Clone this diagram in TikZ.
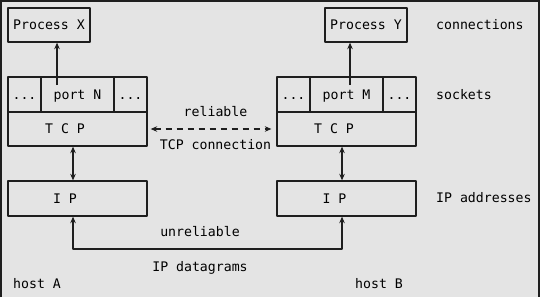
\documentclass[tikz,border=0pt]{standalone}
\usepackage{fontspec}
\setmonofont{DejaVu Sans Mono}
\usetikzlibrary{arrows.meta,positioning,calc}
\definecolor{bg}{HTML}{E4E4E4}
\definecolor{ln}{HTML}{1E1E1E}

\begin{document}
\begin{tikzpicture}[x=1pt, y=-1pt, font=\ttfamily\fontsize{13.2}{16}\selectfont,
    line join=round, >={Stealth[length=6.5pt,width=5.5pt]},
    box/.style={draw=ln, line width=1.3pt, inner sep=0pt, minimum height=34pt,
      text height=11pt, text depth=1.4pt},
    cell/.style={box, minimum height=35pt},
    txt/.style={inner sep=0pt, text height=11pt, text depth=1.4pt},
    link/.style={draw=ln, line width=1.3pt}]
    % Hintergrund und Rahmen
    \useasboundingbox (0,0) rectangle (540,297);
    \fill[bg] (0,0) rectangle (540,297);
    \draw[ln, line width=2pt] (1,297) -- (1,0.5) -- (539,0.5) -- (539,297);

    % Host A
    \node[box, minimum width=82pt] (procX) at (49,25) {Process X};
    \node[cell, minimum width=33pt] (dotsAl) at (24.5,94.5) {...};
    \node[cell, minimum width=73pt] (portN) at (77.5,94.5) {port N};
    \node[cell, minimum width=33pt] (dotsAr) at (130.5,94.5) {...};
    \node[box, minimum width=139pt] (tcpA) at (77.5,129) {};
    \node[txt] (tcpAt) at (65,129) {T C P};
    \node[cell, minimum width=139pt] (ipA) at (77.5,198.5) {};
    \node[txt] (ipAt) at (65,198.5) {I P};

    % Host B
    \node[box, minimum width=82pt] (procY) at (366,25) {Process Y};
    \node[cell, minimum width=33pt] (dotsBl) at (293.5,94.5) {...};
    \node[cell, minimum width=73pt] (portM) at (346.5,94.5) {port M};
    \node[cell, minimum width=33pt] (dotsBr) at (399.5,94.5) {...};
    \node[box, minimum width=139pt] (tcpB) at (346.5,129) {};
    \node[txt] (tcpBt) at (334,129) {T C P};
    \node[cell, minimum width=139pt] (ipB) at (346.5,198.5) {};
    \node[txt] (ipBt) at (334.5,198.5) {I P};

    % Hilfspunkte
    \coordinate (upA) at (57,85);
    \coordinate (upB) at (350,85);
    \coordinate (midA) at (73,0);
    \coordinate (midB) at (342,0);
    \coordinate (dgA) at (73,249);

    % Verbindungen
    \draw[link, ->] (upA) -- (upA |- procX.south);
    \draw[link, ->] (upB) -- (upB |- procY.south);
    \draw[link, <->] (midA |- tcpA.south) -- (midA |- ipA.north);
    \draw[link, <->] (midB |- tcpB.south) -- (midB |- ipB.north);
    \draw[link, <->] (midA |- ipA.south) -- (dgA) -| (midB |- ipB.south);
    \draw[link, <->, dash pattern=on 6pt off 5pt, shorten <=3pt, shorten >=5pt] (tcpA.east) -- (tcpB.west);

    % Beschriftungen
    \node[txt] (rel) at (215.5,112) {reliable};
    \node[txt] (tcpcon) at (215.5,145) {TCP connection};
    \node[txt] (unrel) at (200,232) {unreliable};
    \node[txt] (ipdg) at (200,267) {IP datagrams};
    \node[txt, anchor=west] (hostA) at (13,284) {host A};
    \node[txt, anchor=west] (hostB) at (355,284) {host B};
    \node[txt, anchor=west] (conn) at (436,25) {connections};
    \node[txt, anchor=west] (sock) at (436,95) {sockets};
    \node[txt, anchor=west] (ipaddr) at (436,198) {IP addresses};
\end{tikzpicture}
\end{document}
